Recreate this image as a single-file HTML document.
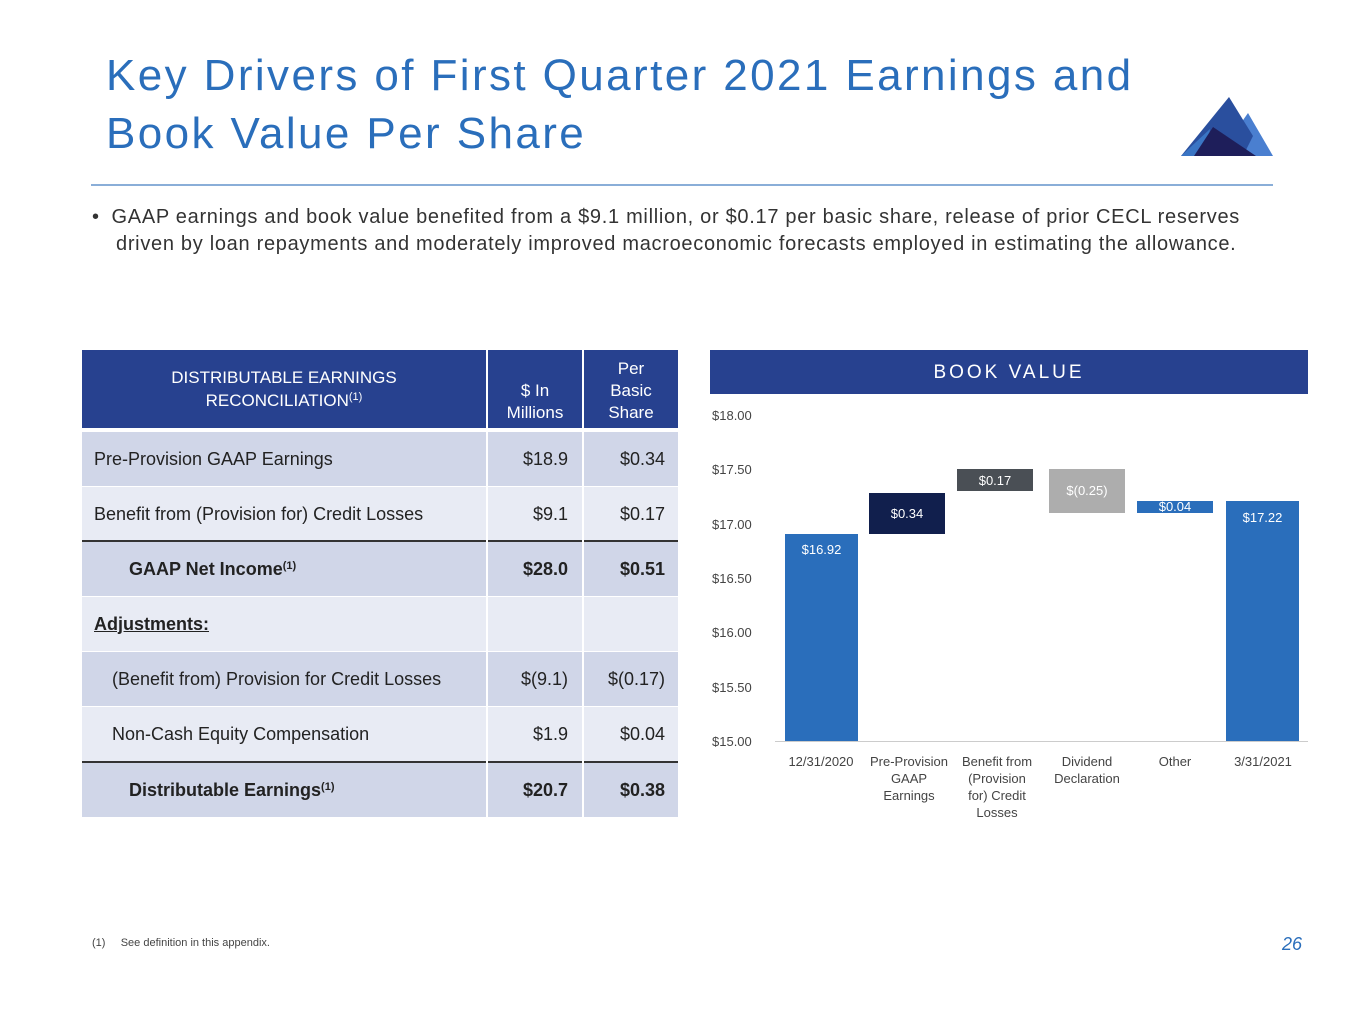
<!DOCTYPE html><html><head><style>
body{margin:0;width:1365px;height:1024px;background:#fff;font-family:"Liberation Sans",sans-serif;position:relative;overflow:hidden}
.a{position:absolute}
.t{color:#2a6ebb;font-size:44px;left:106px;letter-spacing:2.4px;line-height:58px;top:47px}
.r{position:absolute;left:82px;width:596px;font-size:18px;color:#222}
.c{position:absolute;top:0;bottom:0;display:flex;align-items:center}
.yl{position:absolute;left:712px;font-size:13px;color:#444}
.xl{position:absolute;font-size:13px;color:#444;text-align:center;width:100px;line-height:17px}
.bar{position:absolute;color:#fff;font-size:13px;text-align:center}
sup{font-size:11px;vertical-align:6px;line-height:0}
</style></head><body>
<div class="a t">Key Drivers of First Quarter 2021 Earnings and<br>Book Value Per Share</div>
<svg class="a" style="left:1178px;top:96px" width="98" height="62">
<polygon points="40,60 70,17 95,60" fill="#4a7fd0"/>
<polygon points="3,60 51,1 75,40 65,60" fill="#2a4f9e"/>
<polygon points="3,60 32,33 28,60" fill="#3a75c4"/>
<polygon points="16,60 35,31 78,60" fill="#1e1e5a"/>
</svg>
<div class="a" style="left:91px;top:184px;width:1182px;height:2px;background:#8aaed8"></div>
<div class="a" style="left:92px;top:204px;font-size:20px;letter-spacing:0.7px;color:#333;line-height:27px"><span style="letter-spacing:0">•</span>&nbsp;&nbsp;GAAP earnings and book value benefited from a $9.1 million, or $0.17 per basic share, release of prior CECL reserves<br><span style="padding-left:24px">driven by loan repayments and moderately improved macroeconomic forecasts employed in estimating the allowance.</span></div>

<div class="a" style="left:82px;top:350px;width:596px;height:78px;background:#27418f;color:#fff;font-size:17px">
<div class="c" style="left:0;width:404px;justify-content:center;text-align:center;line-height:23px"><span>DISTRIBUTABLE EARNINGS<br>RECONCILIATION<sup>(1)</sup></span></div>
<div class="a" style="left:404px;top:0;width:2px;height:78px;background:#fff"></div>
<div class="c" style="left:406px;width:94px;justify-content:center;text-align:center;line-height:22px;top:30px;align-items:flex-start">$ In<br>Millions</div>
<div class="a" style="left:500px;top:0;width:2px;height:78px;background:#fff"></div>
<div class="c" style="left:502px;width:94px;justify-content:center;text-align:center;line-height:22px;top:8px;align-items:flex-start">Per<br>Basic<br>Share</div>
</div>

<div class="r" style="top:432px;height:54px;background:#d0d6e8"><div class="c" style="left:12px">Pre-Provision GAAP Earnings</div><div class="c" style="right:110px">$18.9</div><div class="c" style="right:13px">$0.34</div></div>
<div class="r" style="top:487px;height:54px;background:#e8ebf4"><div class="c" style="left:12px">Benefit from (Provision for) Credit Losses</div><div class="c" style="right:110px">$9.1</div><div class="c" style="right:13px">$0.17</div></div>
<div class="a" style="left:82px;top:540px;width:596px;height:2px;background:#333"></div>
<div class="r" style="top:542px;height:54px;background:#d0d6e8;font-weight:bold"><div class="c" style="left:47px"><span>GAAP Net Income<sup>(1)</sup></span></div><div class="c" style="right:110px">$28.0</div><div class="c" style="right:13px">$0.51</div></div>
<div class="r" style="top:597px;height:54px;background:#e8ebf4;font-weight:bold"><div class="c" style="left:12px;text-decoration:underline">Adjustments:</div></div>
<div class="r" style="top:652px;height:54px;background:#d0d6e8"><div class="c" style="left:30px">(Benefit from) Provision for Credit Losses</div><div class="c" style="right:110px">$(9.1)</div><div class="c" style="right:13px">$(0.17)</div></div>
<div class="r" style="top:707px;height:54px;background:#e8ebf4"><div class="c" style="left:30px">Non-Cash Equity Compensation</div><div class="c" style="right:110px">$1.9</div><div class="c" style="right:13px">$0.04</div></div>
<div class="a" style="left:82px;top:761px;width:596px;height:2px;background:#333"></div>
<div class="r" style="top:763px;height:54px;background:#d0d6e8;font-weight:bold"><div class="c" style="left:47px"><span>Distributable Earnings<sup>(1)</sup></span></div><div class="c" style="right:110px">$20.7</div><div class="c" style="right:13px">$0.38</div></div>
<div class="a" style="left:486px;top:432px;width:2px;height:385px;background:#fff"></div>
<div class="a" style="left:582px;top:432px;width:2px;height:385px;background:#fff"></div>

<div class="a" style="left:710px;top:350px;width:598px;height:44px;background:#27418f;color:#fff;font-size:19px;letter-spacing:3px;text-align:center;line-height:46px">BOOK VALUE</div>
<div class="yl" style="top:408px">$18.00</div>
<div class="yl" style="top:462px">$17.50</div>
<div class="yl" style="top:517px">$17.00</div>
<div class="yl" style="top:571px">$16.50</div>
<div class="yl" style="top:625px">$16.00</div>
<div class="yl" style="top:680px">$15.50</div>
<div class="yl" style="top:734px">$15.00</div>
<div class="a" style="left:775px;top:741px;width:533px;height:1px;background:#ccc"></div>
<div class="bar" style="left:785px;top:534px;width:73px;height:207px;background:#2a6ebb;line-height:32px">$16.92</div>
<div class="bar" style="left:869px;top:493px;width:76px;height:41px;background:#111f4d;line-height:41px">$0.34</div>
<div class="bar" style="left:957px;top:469px;width:76px;height:22px;background:#4a4f55;line-height:23px">$0.17</div>
<div class="bar" style="left:1049px;top:469px;width:76px;height:44px;background:#adadad;line-height:44px">$(0.25)</div>
<div class="bar" style="left:1137px;top:501px;width:76px;height:12px;background:#2a6ebb;line-height:12px">$0.04</div>
<div class="bar" style="left:1226px;top:501px;width:73px;height:240px;background:#2a6ebb;line-height:34px">$17.22</div>
<div class="xl" style="left:771px;top:753px">12/31/2020</div>
<div class="xl" style="left:859px;top:753px">Pre-Provision<br>GAAP<br>Earnings</div>
<div class="xl" style="left:947px;top:753px">Benefit from<br>(Provision<br>for) Credit<br>Losses</div>
<div class="xl" style="left:1037px;top:753px">Dividend<br>Declaration</div>
<div class="xl" style="left:1125px;top:753px">Other</div>
<div class="xl" style="left:1213px;top:753px">3/31/2021</div>

<div class="a" style="left:92px;top:937px;font-size:11px;color:#444">(1)&nbsp;&nbsp;&nbsp;&nbsp;&nbsp;See definition in this appendix.</div>
<div class="a" style="left:1282px;top:934px;font-size:18px;color:#2a6ebb;font-style:italic">26</div>
</body></html>
